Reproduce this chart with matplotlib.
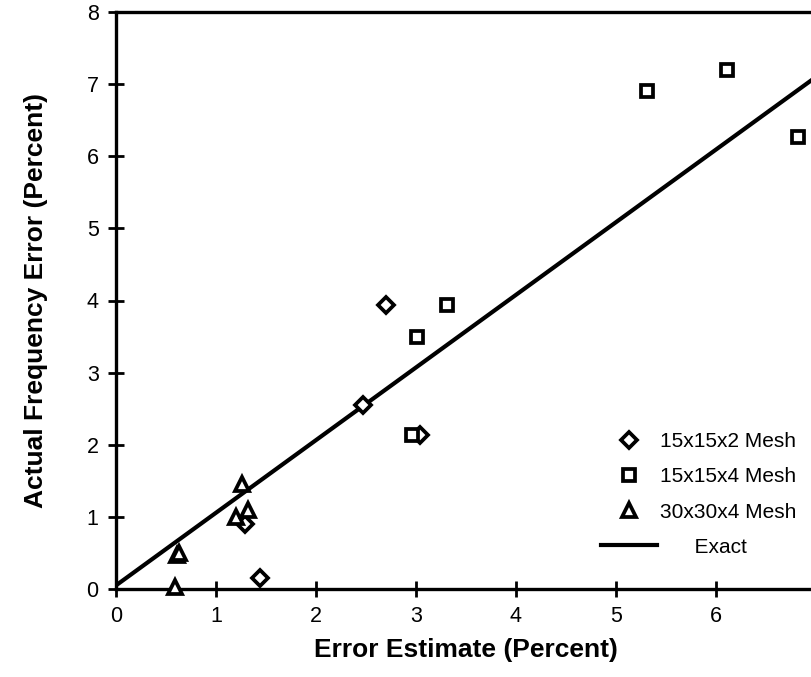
import matplotlib
matplotlib.use("Agg")
import matplotlib.pyplot as plt

plt.rcParams["font.family"] = ["Liberation Sans", "DejaVu Sans"]

# 15x15x2 mesh (diamonds)
mesh2_x = [2.70, 2.47, 3.04, 1.29, 1.44]
mesh2_y = [3.94, 2.55, 2.14, 0.90, 0.15]
# 15x15x4 mesh (squares)
mesh4_x = [3.31, 3.01, 2.96, 5.31, 6.11, 6.82]
mesh4_y = [3.94, 3.50, 2.14, 6.91, 7.20, 6.26]
# 30x30x4 mesh (triangles)
mesh30_x = [1.26, 1.20, 1.32, 0.61, 0.63, 0.59]
mesh30_y = [1.46, 1.00, 1.10, 0.47, 0.50, 0.03]
# exact line
exact_x = [0.0, 7.0]
exact_y = [0.05, 7.10]

fig = plt.figure(figsize=(8.12, 6.77), dpi=100)
ax = fig.add_axes([116 / 812, 1 - 589 / 677, 700 / 812, 577 / 677])

mk = dict(ls="none", mfc="white", mec="black", mew=2.7, color="black", clip_on=False, zorder=3)
ax.plot(mesh2_x, mesh2_y, marker="D", ms=8.5, label="15x15x2 Mesh", **mk)
ax.plot(mesh4_x, mesh4_y, marker="s", ms=8.5, label="15x15x4 Mesh", **mk)
ax.plot(mesh30_x, mesh30_y, marker="^", ms=10.5, label="30x30x4 Mesh", **mk)
ax.plot(exact_x, exact_y, color="black", lw=3, label="      Exact", zorder=2)

ax.set_xlim(0, 7)
ax.set_ylim(0, 8)
ax.set_xticks(range(0, 8))
ax.set_yticks(range(0, 9))
ax.tick_params(direction="inout", length=11, width=2, labelsize=15.5, pad=7)
for s in ("left", "bottom", "top"):
    ax.spines[s].set_linewidth(2.4)
ax.spines["right"].set_visible(False)

ax.set_xlabel("Error Estimate (Percent)", fontsize=19, weight="bold", labelpad=8)
ax.set_ylabel("Actual Frequency Error (Percent)", fontsize=19, weight="bold", labelpad=28)

ax.legend(loc="upper left", bbox_to_anchor=(601 / 812, 1 - 432 / 677),
          bbox_transform=fig.transFigure, frameon=False, fontsize=15,
          handlelength=2.7, handletextpad=0.15, labelspacing=0.78,
          borderpad=0, borderaxespad=0)

fig.savefig("out.png", dpi=100, facecolor="white")
